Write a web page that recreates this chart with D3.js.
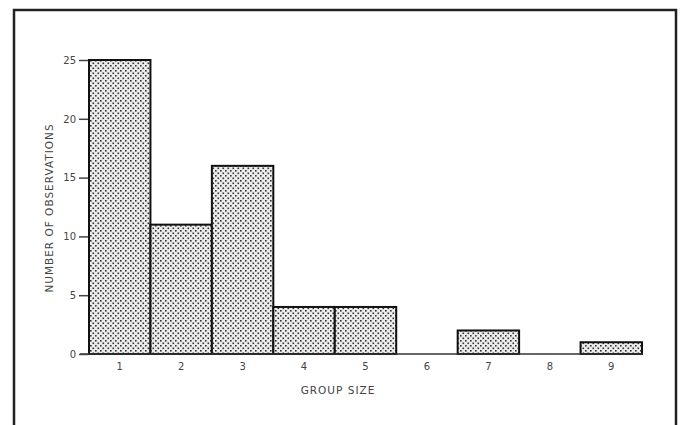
<!DOCTYPE html>
<html><head><meta charset="utf-8">
<script src="https://cdn.jsdelivr.net/npm/d3@7"></script>
<style>body{margin:0;background:#fff}svg{display:block}</style>
</head><body>
<script>
const categories = ["1","2","3","4","5","6","7","8","9"];
const counts = [25, 11, 16, 4, 4, 0, 2, 0, 1];
const yTicks = [0, 5, 10, 15, 20, 25];
const xTitle = "GROUP SIZE";
const yTitle = "NUMBER OF OBSERVATIONS";

const W = 682, H = 425;
const svg = d3.select("body").append("svg").attr("width", W).attr("height", H);
const defs = svg.append("defs");
const pat = defs.append("pattern").attr("id","dots").attr("patternUnits","userSpaceOnUse")
  .attr("width",5).attr("height",5);
pat.append("rect").attr("width",5).attr("height",5).attr("fill","#ececec");
pat.append("rect").attr("x",0).attr("y",0).attr("width",1.6).attr("height",1.6).attr("fill","#333");
pat.append("rect").attr("x",2.5).attr("y",2.5).attr("width",1.6).attr("height",1.6).attr("fill","#333");

// frame
svg.append("path").attr("d", `M14,${H+5} V10 H676 V${H+5}`)
  .attr("fill","none").attr("stroke","#222").attr("stroke-width",2.5);

const x = d3.scaleBand().domain(categories).range([89, 642]).paddingInner(0).paddingOuter(0);
const y = d3.scaleLinear().domain([0, 25]).range([354, 60]);

const font = "'DejaVu Sans', sans-serif";

// bars
svg.append("g").selectAll("rect").data(counts.map((v,i)=>({c:categories[i], v})))
  .join("rect")
  .filter(d => d.v > 0)
  .attr("x", d => x(d.c)).attr("width", x.bandwidth())
  .attr("y", d => y(d.v)).attr("height", d => y(0) - y(d.v))
  .attr("fill","url(#dots)").attr("stroke","#111").attr("stroke-width",2);

// baseline
svg.append("line").attr("x1",80).attr("x2",643).attr("y1",y(0)).attr("y2",y(0))
  .attr("stroke","#333").attr("stroke-width",1.5);

// y axis (ticks only)
const yAxis = d3.axisLeft(y).tickValues(yTicks).tickSize(9).tickPadding(3);
const gy = svg.append("g").attr("transform","translate(88,0)").call(yAxis);
gy.select(".domain").remove();
gy.selectAll(".tick line").attr("stroke","#444").attr("stroke-width",1.5);
gy.selectAll(".tick text").attr("font-family",font).attr("font-size",10).attr("fill","#444");

// x axis labels
const xAxis = d3.axisBottom(x).tickSize(0).tickPadding(9);
const gx = svg.append("g").attr("transform",`translate(0,${y(0)})`).call(xAxis);
gx.select(".domain").remove();
gx.selectAll(".tick text").attr("font-family",font).attr("font-size",10).attr("fill","#444");

// titles
svg.append("text").attr("x",338).attr("y",394).attr("text-anchor","middle")
  .attr("font-family",font).attr("font-size",10.5).attr("letter-spacing",1).attr("fill","#444").text(xTitle);
svg.append("text").attr("transform","translate(53,208) rotate(-90)").attr("text-anchor","middle")
  .attr("font-family",font).attr("font-size",10.5).attr("letter-spacing",1).attr("fill","#444").text(yTitle);
</script>
</body></html>
